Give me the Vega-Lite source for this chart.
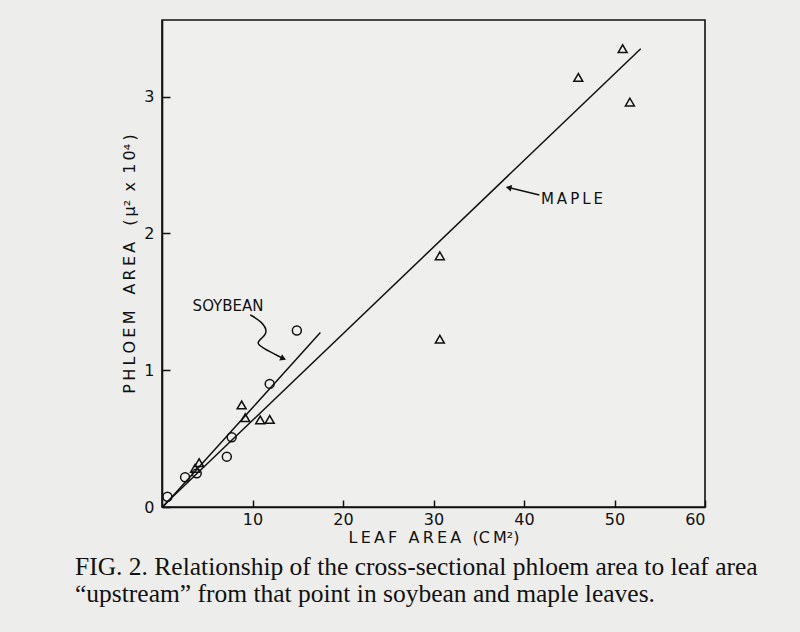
{
  "$schema": "https://vega.github.io/schema/vega-lite/v6.json",
  "autosize": {"type": "none"},
  "padding": {"left": 162, "top": 20, "right": 95, "bottom": 125},
  "width": 543,
  "height": 487,
  "background": "#ededeb",
  "title": {
    "text": ["FIG. 2. Relationship of the cross-sectional phloem area to leaf area", "\u201cupstream\u201d from that point in soybean and maple leaves."],
    "orient": "bottom", "anchor": "start", "frame": "group", "dx": -87, "offset": 10,
    "font": "Liberation Serif", "fontSize": 25.5, "fontWeight": "normal", "color": "#111111", "lineHeight": 27
  },
  "config": {
    "view": {"stroke": "#111111", "strokeWidth": 1.6, "fill": "#efefed"},
    "axis": {"grid": false, "domainColor": "#111111", "domainWidth": 1.6, "tickColor": "#111111", "tickWidth": 1.5,
      "labelFont": "DejaVu Sans", "labelFontSize": 16, "labelColor": "#111111",
      "titleFont": "DejaVu Sans", "titleFontSize": 16, "titleFontWeight": "normal", "titleColor": "#111111"}
  },
  "datasets": {
    "pts": [
      {"species": "soybean", "leaf": 0.6, "phloem": 0.075},
      {"species": "soybean", "leaf": 2.55, "phloem": 0.217},
      {"species": "soybean", "leaf": 3.84, "phloem": 0.246},
      {"species": "soybean", "leaf": 7.16, "phloem": 0.368},
      {"species": "soybean", "leaf": 7.7, "phloem": 0.51},
      {"species": "soybean", "leaf": 11.9, "phloem": 0.9},
      {"species": "soybean", "leaf": 14.9, "phloem": 1.29},
      {"species": "maple", "leaf": 3.65, "phloem": 0.283},
      {"species": "maple", "leaf": 4.1, "phloem": 0.324},
      {"species": "maple", "leaf": 8.8, "phloem": 0.746},
      {"species": "maple", "leaf": 9.2, "phloem": 0.653},
      {"species": "maple", "leaf": 10.85, "phloem": 0.636},
      {"species": "maple", "leaf": 11.9, "phloem": 0.64},
      {"species": "maple", "leaf": 30.7, "phloem": 1.836},
      {"species": "maple", "leaf": 30.7, "phloem": 1.227},
      {"species": "maple", "leaf": 46.0, "phloem": 3.14},
      {"species": "maple", "leaf": 50.9, "phloem": 3.35},
      {"species": "maple", "leaf": 51.7, "phloem": 2.96}
    ],
    "fits": [
      {"series": "soybean", "leaf": 0.1, "phloem": 0.0},
      {"series": "soybean", "leaf": 17.5, "phloem": 1.275},
      {"series": "maple", "leaf": 0.0, "phloem": 0.0},
      {"series": "maple", "leaf": 52.9, "phloem": 3.35}
    ],
    "arrows": [
      {"arrow": "soybean", "step": 1, "leaf": 9.75, "phloem": 1.405},
      {"arrow": "soybean", "step": 2, "leaf": 11.07, "phloem": 1.353},
      {"arrow": "soybean", "step": 3, "leaf": 11.7, "phloem": 1.28},
      {"arrow": "soybean", "step": 4, "leaf": 11.07, "phloem": 1.236},
      {"arrow": "soybean", "step": 5, "leaf": 10.4, "phloem": 1.2},
      {"arrow": "soybean", "step": 6, "leaf": 11.07, "phloem": 1.163},
      {"arrow": "soybean", "step": 7, "leaf": 13.2, "phloem": 1.092},
      {"arrow": "maple", "step": 1, "leaf": 41.7, "phloem": 2.28},
      {"arrow": "maple", "step": 2, "leaf": 38.3, "phloem": 2.335}
    ],
    "heads": [
      {"arrow": "soybean", "leaf": 13.4, "phloem": 1.085},
      {"arrow": "maple", "leaf": 38.3, "phloem": 2.335}
    ],
    "notes": [
      {"label": "SOYBEAN", "leaf": 7.3, "phloem": 1.47},
      {"label": "M\u2009A\u2009P\u2009L\u2009E", "leaf": 45.3, "phloem": 2.25}
    ]
  },
  "layer": [
    {
      "data": {"name": "fits"},
      "mark": {"type": "line", "color": "#111111", "strokeWidth": 1.5},
      "encoding": {
        "x": {"field": "leaf", "type": "quantitative", "scale": {"domain": [0, 60], "nice": false, "zero": false},
          "axis": {"values": [10, 20, 30, 40, 50, 60], "format": "d", "tickSize": -7, "labelPadding": 11,
            "title": "L\u2009E\u2009A\u2009F\u2002\u2009A\u2009R\u2009E\u2009A\u2002\u2009(C\u2009M\u00b2)", "titlePadding": 2}},
        "y": {"field": "phloem", "type": "quantitative", "scale": {"domain": [0, 3.56], "nice": false, "zero": false},
          "axis": {"values": [0, 1, 2, 3], "format": "d", "tickSize": -8, "labelPadding": 16,
            "title": "P\u2009H\u2009L\u2009O\u2009E\u2009M\u2003A\u2009R\u2009E\u2009A\u2003(\u2009\u03bc\u00b2\u2009 x \u20091\u20090\u2074\u2009)", "titlePadding": 6}},
        "detail": {"field": "series"}
      }
    },
    {
      "data": {"name": "pts"},
      "mark": {"type": "point", "filled": false, "stroke": "#111111", "strokeWidth": 1.5, "size": 80, "opacity": 1},
      "encoding": {
        "x": {"field": "leaf", "type": "quantitative"},
        "y": {"field": "phloem", "type": "quantitative"},
        "shape": {"field": "species", "type": "nominal", "scale": {"domain": ["soybean", "maple"], "range": ["circle", "triangle-up"]}, "legend": null}
      }
    },
    {
      "data": {"name": "arrows"},
      "mark": {"type": "line", "color": "#111111", "strokeWidth": 1.5, "interpolate": "basis"},
      "encoding": {
        "x": {"field": "leaf", "type": "quantitative"},
        "y": {"field": "phloem", "type": "quantitative"},
        "detail": {"field": "arrow"},
        "order": {"field": "step"}
      }
    },
    {
      "data": {"name": "heads"},
      "transform": [{"filter": "datum.arrow == 'soybean'"}],
      "mark": {"type": "point", "shape": "triangle-up", "filled": true, "color": "#111111", "size": 45, "angle": 115, "opacity": 1},
      "encoding": {
        "x": {"field": "leaf", "type": "quantitative"},
        "y": {"field": "phloem", "type": "quantitative"}
      }
    },
    {
      "data": {"name": "heads"},
      "transform": [{"filter": "datum.arrow == 'maple'"}],
      "mark": {"type": "point", "shape": "triangle-up", "filled": true, "color": "#111111", "size": 45, "angle": 283, "opacity": 1},
      "encoding": {
        "x": {"field": "leaf", "type": "quantitative"},
        "y": {"field": "phloem", "type": "quantitative"}
      }
    },
    {
      "data": {"name": "notes"},
      "mark": {"type": "text", "font": "DejaVu Sans", "fontSize": 15, "color": "#111111"},
      "encoding": {
        "x": {"field": "leaf", "type": "quantitative"},
        "y": {"field": "phloem", "type": "quantitative"},
        "text": {"field": "label"}
      }
    }
  ]
}
